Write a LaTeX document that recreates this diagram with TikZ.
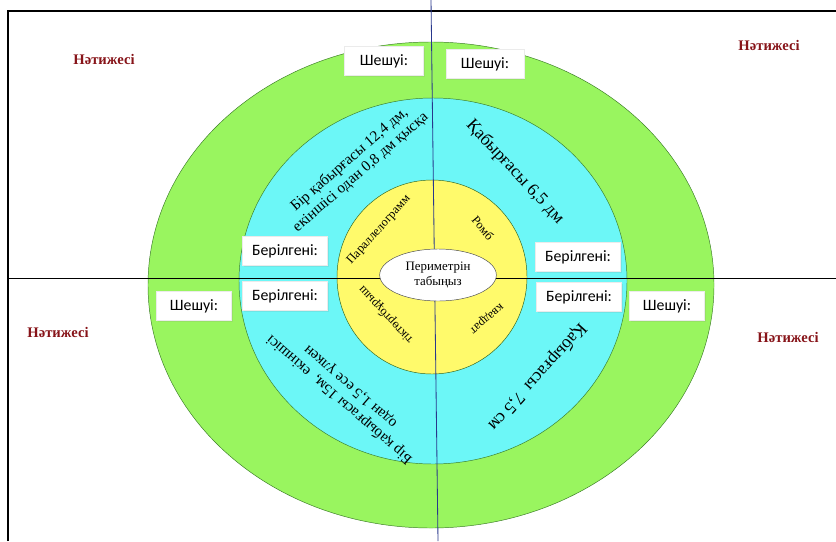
\documentclass[tikz,border=0pt]{standalone}
\usepackage{fontspec}
\setmainfont{Liberation Serif}
\newfontfamily\boxfont{Carlito}
\usetikzlibrary{shapes.geometric,shadows}
\definecolor{ring-green}{RGB}{153,245,95}
\definecolor{ring-cyan}{RGB}{108,247,247}
\definecolor{ring-yellow}{RGB}{255,250,107}
\definecolor{ring-edge}{RGB}{60,125,40}
\definecolor{result-red}{RGB}{135,20,25}
\definecolor{axis-blue}{RGB}{40,55,140}
\tikzset{
    note-box/.style = {draw=black!8, fill=white, rectangle, drop shadow={opacity=0.15, shadow xshift=0.4mm, shadow yshift=-0.4mm}, minimum height=8.6mm, inner xsep=2.5mm, font=\boxfont\fontsize{13.5}{15}\selectfont},
    result-label/.style = {text=result-red, font=\bfseries\fontsize{12.5}{14}\selectfont},
    ring-text/.style = {align=center, inner sep=0pt, font=\fontsize{13}{14.5}\selectfont},
    core-text/.style = {inner sep=0pt, font=\fontsize{10.5}{12}\selectfont},
}

\begin{document}
\begin{tikzpicture}[x=0.3mm, y=-0.3mm]
\useasboundingbox (0,0) rectangle (836,541);
\filldraw[fill=ring-green, draw=ring-edge] (431,285) ellipse [x radius=283, y radius=243];
\filldraw[fill=ring-cyan, draw=ring-edge] (433,281) ellipse [x radius=194, y radius=183];
\filldraw[fill=ring-yellow, draw=ring-edge!80!black] (432,277) ellipse [x radius=95, y radius=97];
\coordinate (frame-nw) at (8,11);
\coordinate (frame-ne) at (836,11);
\coordinate (frame-sw) at (8,541);
\coordinate (axis-w) at (8,278);
\coordinate (axis-e) at (836,278);
\coordinate (axis-n) at (431,0);
\coordinate (axis-s) at (438,541);
\draw[line width=0.6mm] (frame-sw) -- (frame-nw) -- (frame-ne);
\draw[line width=0.3mm] (axis-w) -- (axis-e);
\draw[axis-blue, line width=0.25mm] (axis-n) -- (axis-s);
\node[ellipse, draw=black!70, fill=white, minimum width=35mm, minimum height=15.6mm, inner sep=0pt, align=center, font=\fontsize{11}{13}\selectfont] (task) at (438,275) {Периметрін\\табыңыз};

\node[core-text, rotate=48] (paral) at (379,230) {Параллелограмм};
\node[core-text, rotate=-50] (romb) at (483,228) {Ромб};
\node[core-text, rotate=133] (rect) at (386,315) {тіктөртбұрыш};
\node[core-text, rotate=220] (square) at (486,318) {квадрат};

\node[ring-text, rotate=41] (cond-ul) at (355,166) {Бір қабырғасы 12,4 дм,\\екіншісі одан 0,8 дм қысқа};
\node[ring-text, rotate=-47, font=\fontsize{15}{17}\selectfont] (cond-ur) at (515,172) {Қабырғасы 6,5 дм};
\node[ring-text, rotate=228, font=\fontsize{15}{17}\selectfont] (cond-lr) at (537,377) {Қабырғасы\ \ 7,5 см};
\node[ring-text, rotate=139] (cond-ll) at (345,393) {Бір қабырғасы 15м,\ \ екіншісі\\одан 1,5 есе үлкен};

\node[note-box, minimum width=23.7mm] (sol-nw) at (384,61) {Шешуі:};
\node[note-box, minimum width=23.4mm] (sol-ne) at (485,64) {Шешуі:};
\node[note-box, minimum width=25.5mm] (given-nw) at (285,251) {Берілгені:};
\node[note-box, minimum width=25.5mm] (given-ne) at (578,257) {Берілгені:};
\node[note-box, minimum width=25.5mm] (given-sw) at (285,296) {Берілгені:};
\node[note-box, minimum width=25.5mm] (given-se) at (579,297) {Берілгені:};
\node[note-box, minimum width=22.5mm] (sol-sw) at (194,306) {Шешуі:};
\node[note-box, minimum width=22.5mm] (sol-se) at (667,306) {Шешуі:};

\node[result-label] (res-nw) at (104,59) {Нәтижесі};
\node[result-label] (res-ne) at (769,45) {Нәтижесі};
\node[result-label] (res-sw) at (58,332) {Нәтижесі};
\node[result-label] (res-se) at (788,337) {Нәтижесі};
\end{tikzpicture}
\end{document}
